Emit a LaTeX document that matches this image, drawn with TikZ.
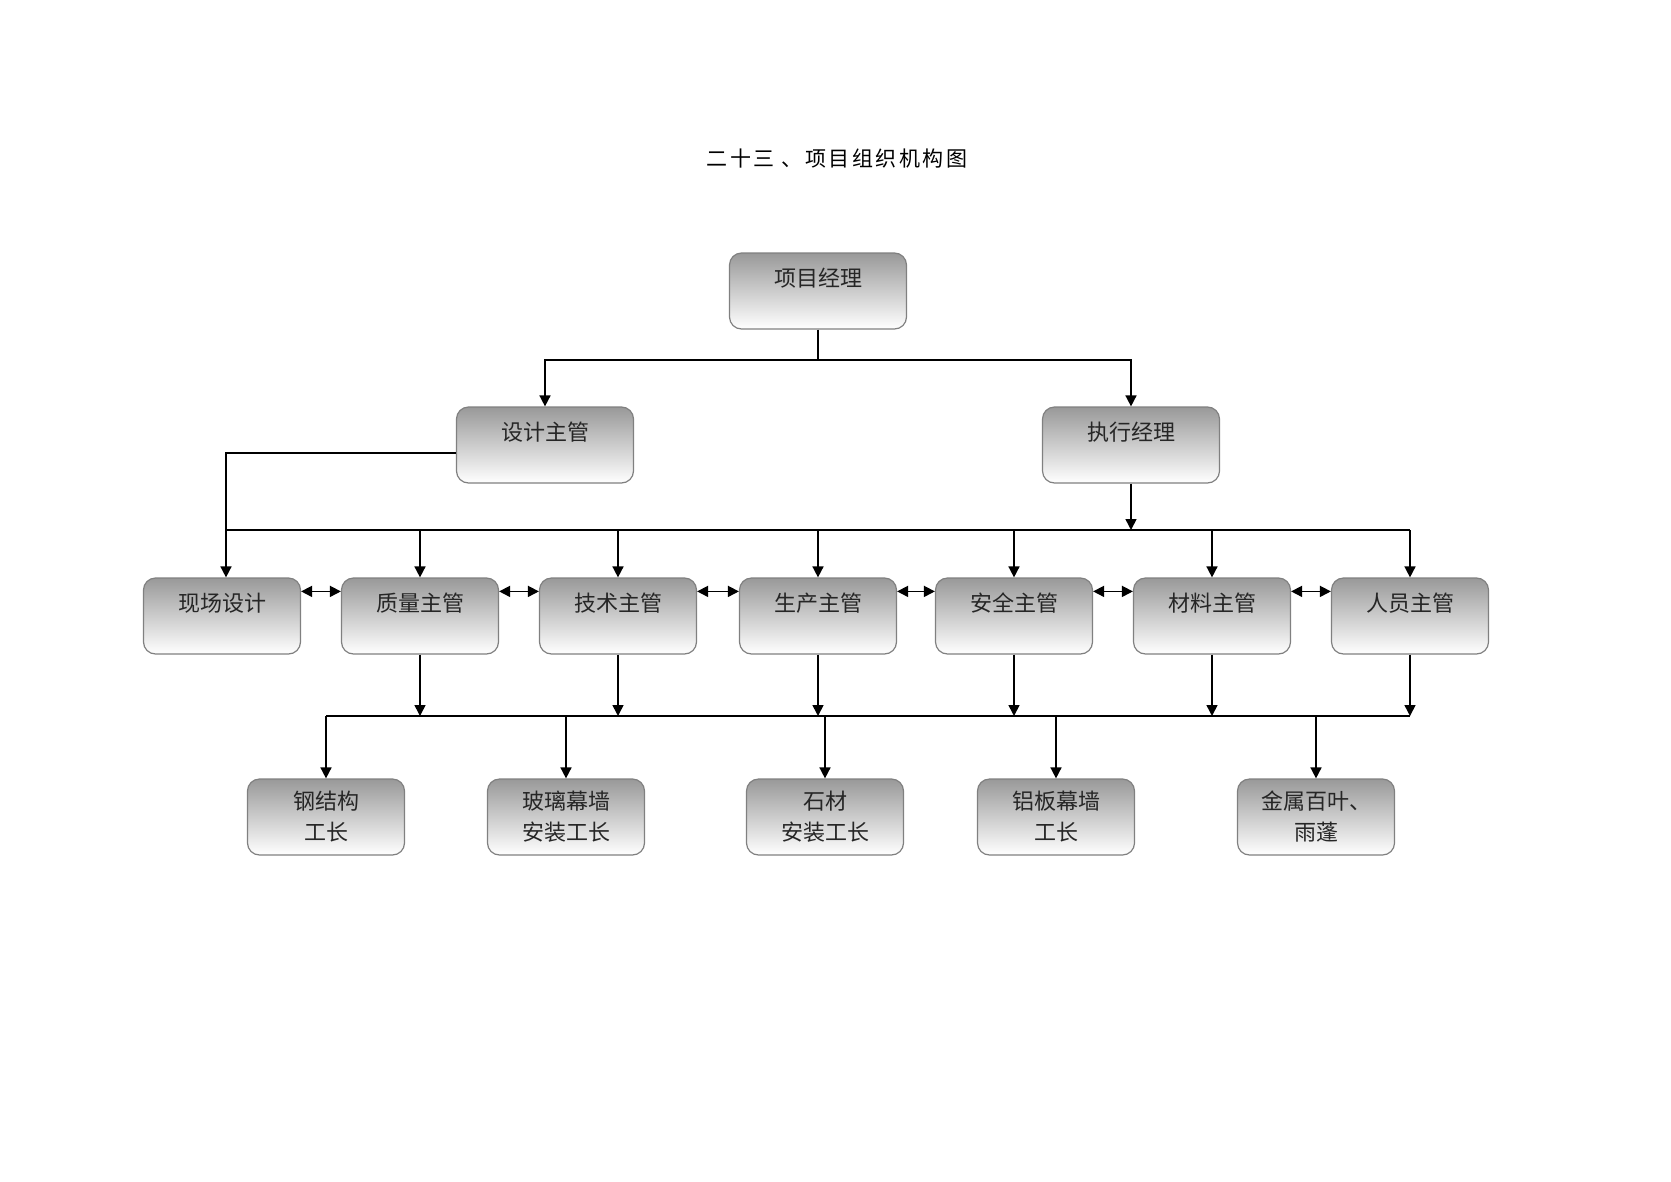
\documentclass[tikz,border=0pt]{standalone}
\usepackage{fontspec}
\setmainfont{Noto Sans CJK SC}
\newfontfamily\titlefont[LetterSpace=12]{Noto Sans CJK SC}
\usetikzlibrary{arrows.meta,shapes}

\begin{document}
\begin{tikzpicture}[>={Triangle[length=11bp,width=11bp]},
  box/.style={draw=black!50,line width=1.2bp,rounded corners=12bp,top color=black!40,bottom color=white,
    minimum width=157bp,minimum height=76bp,text=black!85,font=\fontsize{22bp}{31bp}\selectfont},
  onel/.style={text height=19bp,text depth=29bp},
  twol/.style={align=center},
  wide/.style={minimum width=177bp},
  link/.style={line width=1.6bp}]
\useasboundingbox (0bp,0bp) rectangle (1671bp,-1182bp);
\node (title) at (837bp,-159bp) {\titlefont\fontsize{21bp}{24bp}\selectfont 二十三 、项目组织机构图};
% top levels
\node (PM) at (818bp,-291bp)[box,wide,onel] {项目经理};
\node (SJ) at (545bp,-445bp)[box,wide,onel] {设计主管};
\node (ZX) at (1131bp,-445bp)[box,wide,onel] {执行经理};
% supervisors
\node (XC) at (222bp,-616bp)[box,onel] {现场设计};
\node (ZL) at (420bp,-616bp)[box,onel] {质量主管};
\node (JS) at (618bp,-616bp)[box,onel] {技术主管};
\node (SC) at (818bp,-616bp)[box,onel] {生产主管};
\node (AQ) at (1014bp,-616bp)[box,onel] {安全主管};
\node (CL) at (1212bp,-616bp)[box,onel] {材料主管};
\node (RY) at (1410bp,-616bp)[box,onel] {人员主管};
% foremen
\node (GJG) at (326bp,-817bp)[box,twol] {钢结构\\工长};
\node (BL) at (566bp,-817bp)[box,twol] {玻璃幕墙\\安装工长};
\node (SCai) at (825bp,-817bp)[box,twol] {石材\\安装工长};
\node (LB) at (1056bp,-817bp)[box,twol] {铝板幕墙\\工长};
\node (JSBY) at (1316bp,-817bp)[box,twol] {金属百叶、\\雨蓬};
\coordinate (b1) at (816bp,-360bp);
\coordinate (b2) at (0bp,-530bp);
\coordinate (b3) at (0bp,-716bp);
\draw [->,link] (PM.south) -- (PM.south |- b1) -| (SJ.north);
\draw [->,link] (PM.south |- b1) -| (ZX.north);
\draw [->,link] ([yshift=-8bp]SJ.west) -| ([xshift=4bp]XC.north);
\draw [link] ([xshift=4bp]XC.north |- b2) -- (RY.north |- b2);
\draw [->,link] (ZX.south) -- (ZX.south |- b2);
\foreach \n in {ZL,JS,SC,AQ,CL,RY} \draw [->,link] (\n.north |- b2) -- (\n.north);
\foreach \a/\b in {XC/ZL,ZL/JS,JS/SC,SC/AQ,AQ/CL,CL/RY}
  \draw [<->,link] ([yshift=-14bp]\a.north east) -- ([yshift=-14bp]\b.north west);
\foreach \n in {ZL,JS,SC,AQ,CL,RY} \draw [->,link] (\n.south) -- (\n.south |- b3);
\draw [link] (GJG.north |- b3) -- (RY.south |- b3);
\foreach \n in {GJG,BL,SCai,LB,JSBY} \draw [->,link] (\n.north |- b3) -- (\n.north);
\end{tikzpicture}
\end{document}
